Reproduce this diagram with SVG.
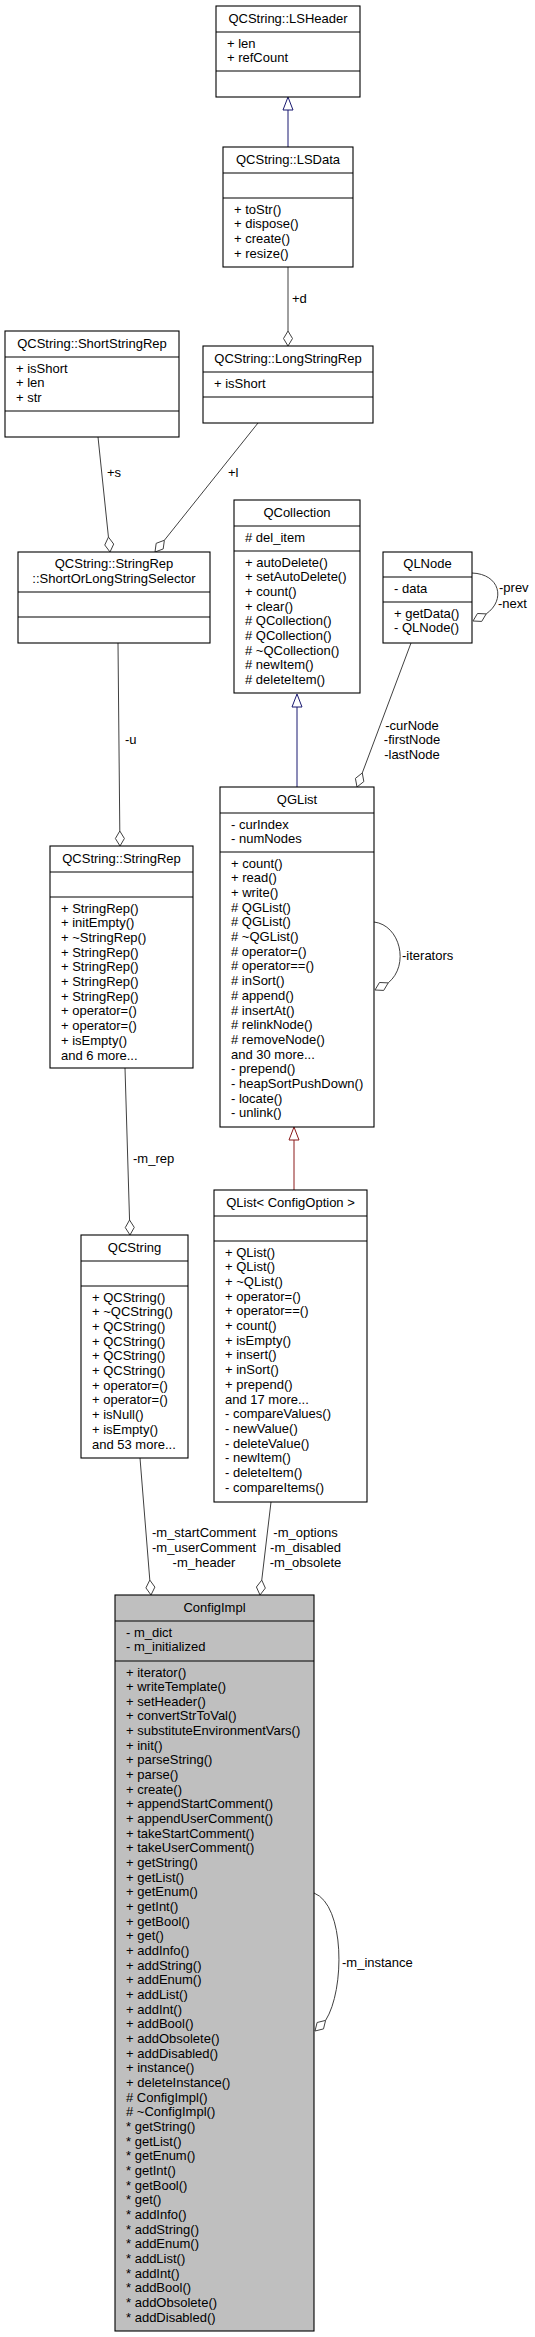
<svg xmlns="http://www.w3.org/2000/svg" width="535" height="2337" viewBox="0 0 535 2337">
<style>
text{font-family:"Liberation Sans",Arial,Helvetica,sans-serif;font-size:13px;fill:#000}
.ttl{text-anchor:middle}
.box{fill:#fff;stroke:#000;stroke-width:1.1}
.cur{fill:#bfbfbf;stroke:#000;stroke-width:1.1}
.sep{stroke:#000;stroke-width:1.1}
.use{fill:none;stroke:#404040;stroke-width:1}
.dia{fill:#fff;stroke:#404040;stroke-width:1}
.pub{fill:none;stroke:#191970;stroke-width:1}
.pubh{fill:#fff;stroke:#191970;stroke-width:1}
.prv{fill:none;stroke:#8b1a1a;stroke-width:1}
.prvh{fill:#fff;stroke:#8b1a1a;stroke-width:1}
.lbl{text-anchor:middle}
</style>
<rect width="535" height="2337" fill="#fff"/>

<g id="connectors">
  <!-- LSData -> LSHeader inheritance -->
  <line class="pub" x1="288" y1="147" x2="288" y2="110"/>
  <polygon class="pubh" points="288,97 293,110 283,110"/>
  <!-- LSData -> LongStringRep +d -->
  <line class="use" x1="288" y1="267" x2="288" y2="331"/>
  <polygon class="dia" points="288,346 292.5,338.5 288,331 283.5,338.5"/>
  <text x="292" y="303">+d</text>
  <!-- ShortStringRep -> selector +s -->
  <line class="use" x1="98" y1="437" x2="108.44" y2="537.08"/>
  <polygon class="dia" points="110,552 113.7,544.07 108.44,537.08 104.75,545"/>
  <text x="107" y="477">+s</text>
  <!-- LongStringRep -> selector +l -->
  <line class="use" x1="258" y1="423" x2="164.36" y2="540.28"/>
  <polygon class="dia" points="155,552 156.16,543.33 164.36,540.28 163.2,548.95"/>
  <text x="228" y="477">+l</text>
  <!-- selector -> StringRep -u -->
  <line class="use" x1="118" y1="643" x2="119.8" y2="831"/>
  <polygon class="dia" points="120,846 124.4,838.5 119.8,831 115.4,838.5"/>
  <text x="125" y="744">-u</text>
  <!-- QGList -> QCollection inheritance -->
  <line class="pub" x1="297" y1="787" x2="297" y2="707"/>
  <polygon class="pubh" points="297,694 302,707 292,707"/>
  <!-- QLNode self -->
  <path class="use" d="M472,573 C500,574 506,600 486.2,613.9"/>
  <polygon class="dia" points="473,621 477.47,613.49 486.2,613.9 481.73,621.41"/>
  <text x="499" y="592">-prev</text>
  <text x="498" y="608">-next</text>
  <!-- QLNode -> QGList -->
  <line class="use" x1="411" y1="643" x2="362.27" y2="772.96"/>
  <polygon class="dia" points="357,787 355.42,778.4 362.27,772.96 363.84,781.56"/>
  <text class="lbl" x="412" y="729.5">-curNode</text>
  <text class="lbl" x="412" y="744">-firstNode</text>
  <text class="lbl" x="412" y="758.5">-lastNode</text>
  <!-- QGList self -->
  <path class="use" d="M374,922 C400,925 410,965 388.2,982.9"/>
  <polygon class="dia" points="375,990 379.47,982.49 388.2,982.9 383.73,990.41"/>
  <text x="402" y="960">-iterators</text>
  <!-- StringRep -> QCString -m_rep -->
  <line class="use" x1="125" y1="1068" x2="129.55" y2="1220"/>
  <polygon class="dia" points="130,1235 134.28,1227.4 129.55,1220 125.28,1227.6"/>
  <text x="133" y="1163">-m_rep</text>
  <!-- QList -> QGList inheritance -->
  <line class="prv" x1="294" y1="1190" x2="294" y2="1140"/>
  <polygon class="prvh" points="294,1127 299,1140 289,1140"/>
  <!-- QCString -> ConfigImpl -->
  <line class="use" x1="140" y1="1458" x2="149.8" y2="1580.05"/>
  <polygon class="dia" points="151,1595 154.89,1587.1 149.8,1580.05 145.91,1587.9"/>
  <text class="lbl" x="204" y="1537">-m_startComment</text>
  <text class="lbl" x="204" y="1552">-m_userComment</text>
  <text class="lbl" x="204" y="1567">-m_header</text>
  <!-- QList -> ConfigImpl -->
  <line class="use" x1="271" y1="1502" x2="261.76" y2="1580.1"/>
  <polygon class="dia" points="260,1595 256.41,1587.02 261.76,1580.1 265.35,1588.08"/>
  <text class="lbl" x="305.5" y="1537">-m_options</text>
  <text class="lbl" x="305.5" y="1552">-m_disabled</text>
  <text class="lbl" x="305.5" y="1567">-m_obsolete</text>
  <!-- ConfigImpl self -->
  <path class="use" d="M314,1893 C345,1905 345,1990 325.6,2020.4"/>
  <polygon class="dia" points="315,2031 317.1,2022.5 325.6,2020.4 323.5,2028.9"/>
  <text x="342" y="1967">-m_instance</text>
</g>

<g id="LSHeader">
  <rect class="box" x="216" y="6" width="144" height="91"/>
  <line class="sep" x1="216" y1="32" x2="360" y2="32"/>
  <line class="sep" x1="216" y1="71" x2="360" y2="71"/>
  <text class="ttl" x="288" y="22.5">QCString::LSHeader</text>
  <text x="227" y="47.5">+ len<tspan x="227" dy="14.7">+ refCount</tspan></text>
</g>

<g id="LSData">
  <rect class="box" x="223" y="147" width="130" height="120"/>
  <line class="sep" x1="223" y1="173" x2="353" y2="173"/>
  <line class="sep" x1="223" y1="198" x2="353" y2="198"/>
  <text class="ttl" x="288" y="163.5">QCString::LSData</text>
  <text x="234" y="213.5">+ toStr()<tspan x="234" dy="14.7">+ dispose()</tspan><tspan x="234" dy="14.7">+ create()</tspan><tspan x="234" dy="14.7">+ resize()</tspan></text>
</g>

<g id="LongStringRep">
  <rect class="box" x="203" y="346" width="170" height="77"/>
  <line class="sep" x1="203" y1="372" x2="373" y2="372"/>
  <line class="sep" x1="203" y1="397" x2="373" y2="397"/>
  <text class="ttl" x="288" y="362.5">QCString::LongStringRep</text>
  <text x="214" y="387.5">+ isShort</text>
</g>

<g id="ShortStringRep">
  <rect class="box" x="5" y="331" width="174" height="106"/>
  <line class="sep" x1="5" y1="357" x2="179" y2="357"/>
  <line class="sep" x1="5" y1="411" x2="179" y2="411"/>
  <text class="ttl" x="92" y="347.5">QCString::ShortStringRep</text>
  <text x="16" y="372.5">+ isShort<tspan x="16" dy="14.7">+ len</tspan><tspan x="16" dy="14.7">+ str</tspan></text>
</g>

<g id="ShortOrLongStringSelector">
  <rect class="box" x="18" y="552" width="192" height="91"/>
  <line class="sep" x1="18" y1="592" x2="210" y2="592"/>
  <line class="sep" x1="18" y1="617" x2="210" y2="617"/>
  <text class="ttl" x="114" y="567.5">QCString::StringRep</text>
  <text class="ttl" x="114" y="582.5">::ShortOrLongStringSelector</text>
</g>

<g id="QCollection">
  <rect class="box" x="234" y="500" width="126" height="193"/>
  <line class="sep" x1="234" y1="526" x2="360" y2="526"/>
  <line class="sep" x1="234" y1="551" x2="360" y2="551"/>
  <text class="ttl" x="297" y="516.5">QCollection</text>
  <text x="245" y="541.5"># del_item</text>
  <text x="245" y="566.5">+ autoDelete()<tspan x="245" dy="14.7">+ setAutoDelete()</tspan><tspan x="245" dy="14.7">+ count()</tspan><tspan x="245" dy="14.7">+ clear()</tspan><tspan x="245" dy="14.7"># QCollection()</tspan><tspan x="245" dy="14.7"># QCollection()</tspan><tspan x="245" dy="14.7"># ~QCollection()</tspan><tspan x="245" dy="14.7"># newItem()</tspan><tspan x="245" dy="14.7"># deleteItem()</tspan></text>
</g>

<g id="QLNode">
  <rect class="box" x="383" y="552" width="89" height="91"/>
  <line class="sep" x1="383" y1="577" x2="472" y2="577"/>
  <line class="sep" x1="383" y1="602" x2="472" y2="602"/>
  <text class="ttl" x="427.5" y="568">QLNode</text>
  <text x="394" y="592.5">- data</text>
  <text x="394" y="617.5">+ getData()<tspan x="394" dy="14.7">- QLNode()</tspan></text>
</g>

<g id="QGList">
  <rect class="box" x="220" y="787" width="154" height="340"/>
  <line class="sep" x1="220" y1="813" x2="374" y2="813"/>
  <line class="sep" x1="220" y1="852" x2="374" y2="852"/>
  <text class="ttl" x="297" y="803.5">QGList</text>
  <text x="231" y="828.5">- curIndex<tspan x="231" dy="14.7">- numNodes</tspan></text>
  <text x="231" y="867.5">+ count()<tspan x="231" dy="14.7">+ read()</tspan><tspan x="231" dy="14.7">+ write()</tspan><tspan x="231" dy="14.7"># QGList()</tspan><tspan x="231" dy="14.7"># QGList()</tspan><tspan x="231" dy="14.7"># ~QGList()</tspan><tspan x="231" dy="14.7"># operator=()</tspan><tspan x="231" dy="14.7"># operator==()</tspan><tspan x="231" dy="14.7"># inSort()</tspan><tspan x="231" dy="14.7"># append()</tspan><tspan x="231" dy="14.7"># insertAt()</tspan><tspan x="231" dy="14.7"># relinkNode()</tspan><tspan x="231" dy="14.7"># removeNode()</tspan><tspan x="231" dy="14.7">and 30 more...</tspan><tspan x="231" dy="14.7">- prepend()</tspan><tspan x="231" dy="14.7">- heapSortPushDown()</tspan><tspan x="231" dy="14.7">- locate()</tspan><tspan x="231" dy="14.7">- unlink()</tspan></text>
</g>

<g id="StringRep">
  <rect class="box" x="50" y="846" width="143" height="222"/>
  <line class="sep" x1="50" y1="872" x2="193" y2="872"/>
  <line class="sep" x1="50" y1="897" x2="193" y2="897"/>
  <text class="ttl" x="121.5" y="862.5">QCString::StringRep</text>
  <text x="61" y="912.5">+ StringRep()<tspan x="61" dy="14.7">+ initEmpty()</tspan><tspan x="61" dy="14.7">+ ~StringRep()</tspan><tspan x="61" dy="14.7">+ StringRep()</tspan><tspan x="61" dy="14.7">+ StringRep()</tspan><tspan x="61" dy="14.7">+ StringRep()</tspan><tspan x="61" dy="14.7">+ StringRep()</tspan><tspan x="61" dy="14.7">+ operator=()</tspan><tspan x="61" dy="14.7">+ operator=()</tspan><tspan x="61" dy="14.7">+ isEmpty()</tspan><tspan x="61" dy="14.7">and 6 more...</tspan></text>
</g>

<g id="QCString">
  <rect class="box" x="81" y="1235" width="107" height="223"/>
  <line class="sep" x1="81" y1="1261" x2="188" y2="1261"/>
  <line class="sep" x1="81" y1="1286" x2="188" y2="1286"/>
  <text class="ttl" x="134.5" y="1251.5">QCString</text>
  <text x="92" y="1301.5">+ QCString()<tspan x="92" dy="14.7">+ ~QCString()</tspan><tspan x="92" dy="14.7">+ QCString()</tspan><tspan x="92" dy="14.7">+ QCString()</tspan><tspan x="92" dy="14.7">+ QCString()</tspan><tspan x="92" dy="14.7">+ QCString()</tspan><tspan x="92" dy="14.7">+ operator=()</tspan><tspan x="92" dy="14.7">+ operator=()</tspan><tspan x="92" dy="14.7">+ isNull()</tspan><tspan x="92" dy="14.7">+ isEmpty()</tspan><tspan x="92" dy="14.7">and 53 more...</tspan></text>
</g>

<g id="QList_ConfigOption">
  <rect class="box" x="214" y="1190" width="153" height="312"/>
  <line class="sep" x1="214" y1="1216" x2="367" y2="1216"/>
  <line class="sep" x1="214" y1="1241" x2="367" y2="1241"/>
  <text class="ttl" x="290.5" y="1206.5">QList&lt; ConfigOption &gt;</text>
  <text x="225" y="1256.5">+ QList()<tspan x="225" dy="14.7">+ QList()</tspan><tspan x="225" dy="14.7">+ ~QList()</tspan><tspan x="225" dy="14.7">+ operator=()</tspan><tspan x="225" dy="14.7">+ operator==()</tspan><tspan x="225" dy="14.7">+ count()</tspan><tspan x="225" dy="14.7">+ isEmpty()</tspan><tspan x="225" dy="14.7">+ insert()</tspan><tspan x="225" dy="14.7">+ inSort()</tspan><tspan x="225" dy="14.7">+ prepend()</tspan><tspan x="225" dy="14.7">and 17 more...</tspan><tspan x="225" dy="14.7">- compareValues()</tspan><tspan x="225" dy="14.7">- newValue()</tspan><tspan x="225" dy="14.7">- deleteValue()</tspan><tspan x="225" dy="14.7">- newItem()</tspan><tspan x="225" dy="14.7">- deleteItem()</tspan><tspan x="225" dy="14.7">- compareItems()</tspan></text>
</g>

<g id="ConfigImpl">
  <rect class="cur" x="115" y="1595" width="199" height="736"/>
  <line class="sep" x1="115" y1="1621" x2="314" y2="1621"/>
  <line class="sep" x1="115" y1="1661" x2="314" y2="1661"/>
  <text class="ttl" x="214.5" y="1611.5">ConfigImpl</text>
  <text x="126" y="1636.5">- m_dict<tspan x="126" dy="14.7">- m_initialized</tspan></text>
  <text x="126" y="1676.5">+ iterator()<tspan x="126" dy="14.66">+ writeTemplate()</tspan><tspan x="126" dy="14.66">+ setHeader()</tspan><tspan x="126" dy="14.66">+ convertStrToVal()</tspan><tspan x="126" dy="14.66">+ substituteEnvironmentVars()</tspan><tspan x="126" dy="14.66">+ init()</tspan><tspan x="126" dy="14.66">+ parseString()</tspan><tspan x="126" dy="14.66">+ parse()</tspan><tspan x="126" dy="14.66">+ create()</tspan><tspan x="126" dy="14.66">+ appendStartComment()</tspan><tspan x="126" dy="14.66">+ appendUserComment()</tspan><tspan x="126" dy="14.66">+ takeStartComment()</tspan><tspan x="126" dy="14.66">+ takeUserComment()</tspan><tspan x="126" dy="14.66">+ getString()</tspan><tspan x="126" dy="14.66">+ getList()</tspan><tspan x="126" dy="14.66">+ getEnum()</tspan><tspan x="126" dy="14.66">+ getInt()</tspan><tspan x="126" dy="14.66">+ getBool()</tspan><tspan x="126" dy="14.66">+ get()</tspan><tspan x="126" dy="14.66">+ addInfo()</tspan><tspan x="126" dy="14.66">+ addString()</tspan><tspan x="126" dy="14.66">+ addEnum()</tspan><tspan x="126" dy="14.66">+ addList()</tspan><tspan x="126" dy="14.66">+ addInt()</tspan><tspan x="126" dy="14.66">+ addBool()</tspan><tspan x="126" dy="14.66">+ addObsolete()</tspan><tspan x="126" dy="14.66">+ addDisabled()</tspan><tspan x="126" dy="14.66">+ instance()</tspan><tspan x="126" dy="14.66">+ deleteInstance()</tspan><tspan x="126" dy="14.66"># ConfigImpl()</tspan><tspan x="126" dy="14.66"># ~ConfigImpl()</tspan><tspan x="126" dy="14.66">* getString()</tspan><tspan x="126" dy="14.66">* getList()</tspan><tspan x="126" dy="14.66">* getEnum()</tspan><tspan x="126" dy="14.66">* getInt()</tspan><tspan x="126" dy="14.66">* getBool()</tspan><tspan x="126" dy="14.66">* get()</tspan><tspan x="126" dy="14.66">* addInfo()</tspan><tspan x="126" dy="14.66">* addString()</tspan><tspan x="126" dy="14.66">* addEnum()</tspan><tspan x="126" dy="14.66">* addList()</tspan><tspan x="126" dy="14.66">* addInt()</tspan><tspan x="126" dy="14.66">* addBool()</tspan><tspan x="126" dy="14.66">* addObsolete()</tspan><tspan x="126" dy="14.66">* addDisabled()</tspan></text>
</g>
</svg>
